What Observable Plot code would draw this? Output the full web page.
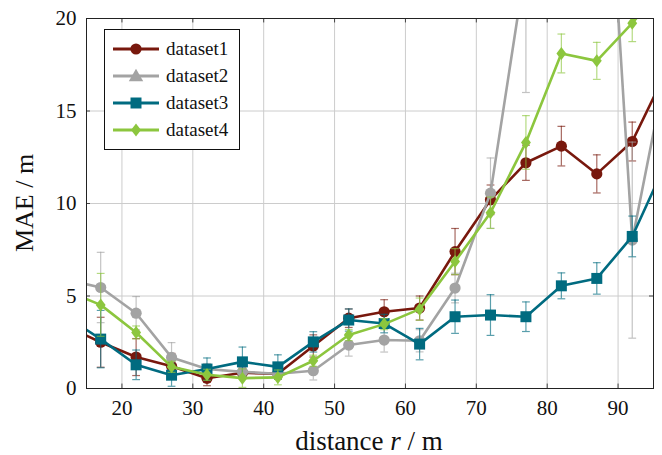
<!DOCTYPE html>
<html><head><meta charset="utf-8">
<script src="https://cdn.jsdelivr.net/npm/d3@7"></script>
<script src="https://cdn.jsdelivr.net/npm/@observablehq/plot@0.6"></script>
<style>
body{margin:0;background:#fff;}
#chart{position:relative;width:662px;height:455px;}
</style></head><body><div id="chart"></div>
<script>
// ---- data ----
const distances = [12, 17, 22, 27, 32, 37, 42, 47, 52, 57, 62, 67, 72, 77, 82, 87, 92, 97];
const names = ["dataset1", "dataset2", "dataset3", "dataset4"];
const colors = ["#78180d", "#a3a3a3", "#006b80", "#8cc63e"];
const mae1 = [3.4, 2.5, 1.7, 1.2, 0.55, 0.85, 0.8, 2.3, 3.8, 4.15, 4.35, 7.4, 10.2, 12.2, 13.1, 11.6, 13.35, 17.3];
const err1 = [1.3, 1.35, 1.0, 0.7, 0.4, 0.3, 0.3, 0.6, 0.5, 0.65, 0.65, 1.25, 0.8, 0.95, 1.07, 1.03, 1.05, 1.0];
const mae2 = [5.9, 5.46, 4.07, 1.68, 1.05, 0.9, 0.8, 0.96, 2.35, 2.62, 2.58, 5.43, 10.56, 23, 30, 38.8, 8.02, 17.7];
const err2 = [1.9, 1.9, 0.9, 0.8, 0.3, 0.3, 0.3, 0.5, 0.6, 0.65, 0.6, 0.8, 1.9, 7.0, 3, 3, 5.3, 2];
const mae3 = [3.92, 2.67, 1.28, 0.72, 1.05, 1.44, 1.17, 2.52, 3.7, 3.51, 2.4, 3.88, 3.97, 3.88, 5.55, 5.95, 8.22, 12.4];
const err3 = [1.5, 1.55, 0.8, 0.6, 0.6, 0.8, 0.65, 0.55, 0.6, 0.5, 0.85, 0.9, 1.1, 0.8, 0.7, 0.85, 1.1, 1.0];
const mae4 = [5.3, 4.52, 3.03, 1.17, 0.74, 0.56, 0.6, 1.5, 2.89, 3.48, 4.29, 6.86, 9.5, 13.3, 18.11, 17.71, 19.75, 22];
const err4 = [1.7, 1.7, 0.35, 0.3, 0.3, 0.5, 0.4, 0.3, 0.3, 0.3, 0.6, 0.7, 0.85, 1.45, 1.05, 1.0, 1.0, 1.0];
const xTicks = [20, 30, 40, 50, 60, 70, 80, 90];
const yTicks = [0, 5, 10, 15, 20];

const FONT = "Liberation Serif";

// ---- symbols ----
const tallDiamond = {draw(ctx, size) {
  const r = Math.sqrt(size / Math.PI);
  ctx.moveTo(0, -1.25 * r); ctx.lineTo(0.95 * r, 0); ctx.lineTo(0, 1.25 * r); ctx.lineTo(-0.95 * r, 0); ctx.closePath();
}};
const plotSymbols = ["circle", "circle", "square", tallDiamond];
const plotRadii = [5.6, 5.6, 6.2, 5.2];

const seriesVals = [mae1, mae2, mae3, mae4];
const seriesErr = [err1, err2, err3, err4];
const rows = names.map((n, i) => distances.map((x, j) => ({series: n, x, y: seriesVals[i][j], e: seriesErr[i][j]})));

const marks = [
  Plot.ruleX(xTicks, {x: d => d, stroke: "#cccccc", strokeWidth: 1}),
  Plot.ruleY(yTicks, {y: d => d, stroke: "#cccccc", strokeWidth: 1}),
  Plot.ruleX(xTicks, {x: d => d, y1: 0, y2: 0.24, stroke: "#444"}),
  Plot.ruleX(xTicks, {x: d => d, y1: 19.76, y2: 20, stroke: "#444"}),
  Plot.ruleY(yTicks, {y: d => d, x1: 15, x2: 15.56, stroke: "#444"}),
  Plot.ruleY(yTicks, {y: d => d, x1: 94.44, x2: 95, stroke: "#444"}),
  Plot.text(xTicks, {x: d => d, text: d => String(d), frameAnchor: "bottom", lineAnchor: "top", dy: 12, fontFamily: FONT, fontSize: 21, fill: "#111"}),
  Plot.text(yTicks, {y: d => d, text: d => String(d), frameAnchor: "left", textAnchor: "end", dx: -10, fontFamily: FONT, fontSize: 21, fill: "#111"})
];
rows.forEach((sub, i) => {
  const c = colors[i];
  marks.push(
    Plot.ruleX(sub, {x: "x", y1: d => d.y - d.e, y2: d => d.y + d.e, stroke: c, strokeOpacity: 0.65, strokeWidth: 1.2, clip: true}),
    Plot.link(sub, {x1: d => d.x - 0.55, x2: d => d.x + 0.55, y1: d => d.y + d.e, y2: d => d.y + d.e, stroke: c, strokeOpacity: 0.65, strokeWidth: 1.2, clip: true}),
    Plot.link(sub, {x1: d => d.x - 0.55, x2: d => d.x + 0.55, y1: d => d.y - d.e, y2: d => d.y - d.e, stroke: c, strokeOpacity: 0.65, strokeWidth: 1.2, clip: true}),
    Plot.line(sub, {x: "x", y: "y", stroke: c, strokeWidth: 2.6, clip: true}),
    Plot.dot(sub, {x: "x", y: "y", symbol: plotSymbols[i], r: plotRadii[i], fill: c, stroke: "none", clip: true})
  );
});
marks.push(Plot.frame({stroke: "#222", strokeWidth: 1}));

const plot = Plot.plot({
  width: 662, height: 455,
  marginLeft: 86, marginRight: 9, marginTop: 18, marginBottom: 67,
  style: {background: "#fff"},
  x: {domain: [15, 95], axis: null},
  y: {domain: [0, 20], axis: null},
  marks
});
document.getElementById("chart").appendChild(plot);

// ---- axis labels ----
const svg = d3.select(plot);
const xl = svg.append("text").attr("x", 369).attr("y", 450).attr("text-anchor", "middle")
  .attr("font-family", FONT).attr("font-size", 27).attr("fill", "#111");
xl.append("tspan").text("distance ");
xl.append("tspan").attr("font-style", "italic").text("r");
xl.append("tspan").text(" / m");
svg.append("text").attr("transform", "translate(33,203) rotate(-90)").attr("text-anchor", "middle")
  .attr("font-family", FONT).attr("font-size", 26).attr("fill", "#111").text("MAE / m");

// ---- legend ----
const legendSymbols = [d3.symbolCircle, d3.symbolTriangle, d3.symbolSquare, tallDiamond];
const legendSizes = [Math.PI * 5.6 * 5.6, 90, Math.PI * 6.2 * 6.2, Math.PI * 5.2 * 5.2];
const lg = svg.append("g");
lg.append("rect").attr("x", 104.5).attr("y", 29.5).attr("width", 135).attr("height", 120)
  .attr("fill", "#fff").attr("stroke", "#111").attr("stroke-width", 1);
names.forEach((n, i) => {
  const yy = 49 + i * 27;
  lg.append("line").attr("x1", 113).attr("x2", 159).attr("y1", yy).attr("y2", yy)
    .attr("stroke", colors[i]).attr("stroke-width", 2.8);
  lg.append("path").attr("d", d3.symbol(legendSymbols[i], legendSizes[i])())
    .attr("transform", `translate(136,${yy + (i === 1 ? 1 : 0)})`).attr("fill", colors[i]);
  lg.append("text").attr("x", 166).attr("y", yy).attr("dy", "0.33em").attr("text-anchor", "start")
    .attr("font-family", FONT).attr("font-size", 19).attr("fill", "#111").text(n);
});
</script></body></html>
